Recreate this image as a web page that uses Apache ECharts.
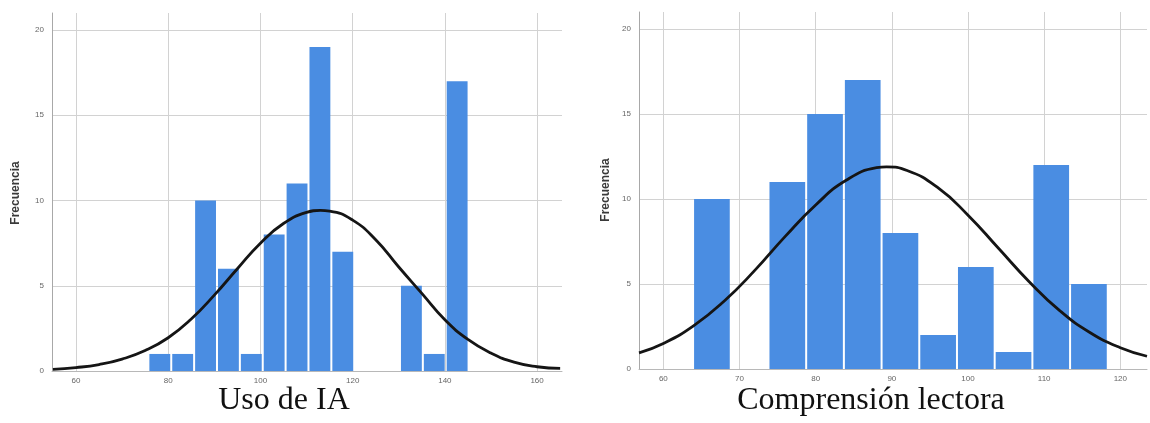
<!DOCTYPE html>
<html>
<head>
<meta charset="utf-8">
<script src="https://cdn.jsdelivr.net/npm/echarts@6/dist/echarts.min.js"></script>
<style>
html,body{margin:0;padding:0;background:#fff;}
#chart{width:1150px;height:423px;}
</style>
</head>
<body>
<div id="chart"></div>
<script>
// ---- Data ----
// Left histogram: "Uso de IA"
const iaTitle = "Uso de IA";
const iaBinStart = 75.7;
const iaBinWidth = 4.96;
const iaCounts = [1, 1, 10, 6, 1, 8, 11, 19, 7, 0, 0, 5, 1, 17];
const iaTicksX = [60, 80, 100, 120, 140, 160];
const iaCurveX = [55, 60, 65, 70, 75, 80, 85, 90, 95, 100, 105, 110, 113, 115, 120, 125, 130, 135, 140, 145, 150, 155, 160, 165];
const iaCurveY = [0.1, 0.2, 0.38, 0.7, 1.2, 1.95, 3.05, 4.45, 6.0, 7.5, 8.65, 9.3, 9.42, 9.38, 8.85, 7.7, 6.1, 4.55, 3.0, 1.85, 1.05, 0.52, 0.25, 0.15];

// Right histogram: "Comprensión lectora"
const clTitle = "Comprensión lectora";
const clBinStart = 63.9;
const clBinWidth = 4.95;
const clCounts = [10, 0, 11, 15, 17, 8, 2, 6, 1, 12, 5];
const clTicksX = [60, 70, 80, 90, 100, 110, 120];
const clCurveX = [56.8, 60, 64, 68, 72, 76, 80, 84, 88, 89.3, 92, 96, 100, 104, 108, 112, 116, 120, 123.5];
const clCurveY = [0.95, 1.5, 2.55, 4.0, 5.8, 7.8, 9.65, 11.1, 11.84, 11.89, 11.68, 10.68, 9.05, 7.1, 5.15, 3.45, 2.15, 1.25, 0.75];

const ticksY = [0, 5, 10, 15, 20];
const yLabel = "Frecuencia";

// ---- Build ----
function bins(start, w, counts) {
  return counts.map((c, i) => [start + i * w, start + (i + 1) * w, c]).filter(d => d[2] > 0);
}
function pairs(xs, ys) { return xs.map((x, i) => [x, ys[i]]); }

const barColor = '#4A8DE2';
function renderBar(params, api) {
  const p0 = api.coord([api.value(0), 0]);
  const p1 = api.coord([api.value(1), api.value(2)]);
  return {
    type: 'rect',
    shape: { x: p0[0] + 1, y: p1[1], width: p1[0] - p0[0] - 2, height: p0[1] - p1[1] },
    style: { fill: barColor }
  };
}

const labelStyle = { fontFamily: 'Liberation Sans', fontSize: 8, color: '#666' };
function xAxisCfg(idx, min, max, ticks) {
  return {
    type: 'value', gridIndex: idx, min: min, max: max,
    axisLine: { show: true, lineStyle: { color: '#b8b8b8', width: 1 } },
    axisTick: { show: false, customValues: ticks },
    axisLabel: Object.assign({ customValues: ticks, margin: 6 }, labelStyle),
    splitLine: { show: true, lineStyle: { color: '#d2d2d2', width: 1 } }
  };
}
function yAxisCfg(idx) {
  return {
    type: 'value', gridIndex: idx, min: 0, max: 21,
    axisLine: { show: true, onZero: false, lineStyle: { color: '#a8a8a8', width: 1 } },
    axisTick: { show: false, customValues: ticksY },
    axisLabel: Object.assign({ customValues: ticksY, margin: 8 }, labelStyle),
    splitLine: { show: true, lineStyle: { color: '#d2d2d2', width: 1 } }
  };
}

const chart = echarts.init(document.getElementById('chart'), null, { renderer: 'canvas' });
chart.setOption({
  animation: false,
  backgroundColor: '#ffffff',
  grid: [
    { left: 52, top: 13, width: 510, height: 358 },
    { left: 639, top: 12, width: 508, height: 357 }
  ],
  xAxis: [xAxisCfg(0, 54.8, 165.4, iaTicksX), xAxisCfg(1, 56.8, 123.5, clTicksX)],
  yAxis: [yAxisCfg(0), yAxisCfg(1)],
  series: [
    { type: 'custom', xAxisIndex: 0, yAxisIndex: 0, renderItem: renderBar, data: bins(iaBinStart, iaBinWidth, iaCounts), z: 2 },
    { type: 'line', xAxisIndex: 0, yAxisIndex: 0, data: pairs(iaCurveX, iaCurveY), smooth: true, symbol: 'none',
      lineStyle: { color: '#151515', width: 2.8 }, z: 3 },
    { type: 'custom', xAxisIndex: 1, yAxisIndex: 1, renderItem: renderBar, data: bins(clBinStart, clBinWidth, clCounts), z: 2 },
    { type: 'line', xAxisIndex: 1, yAxisIndex: 1, data: pairs(clCurveX, clCurveY), smooth: true, symbol: 'none',
      lineStyle: { color: '#151515', width: 2.8 }, z: 3 }
  ],
  graphic: [
    { type: 'text', x: 16, y: 193, rotation: Math.PI / 2,
      style: { text: yLabel, font: 'bold 12px "Liberation Sans"', fill: '#3a3a3a', textAlign: 'center', textVerticalAlign: 'middle' } },
    { type: 'text', x: 606, y: 190, rotation: Math.PI / 2,
      style: { text: yLabel, font: 'bold 12px "Liberation Sans"', fill: '#3a3a3a', textAlign: 'center', textVerticalAlign: 'middle' } },
    { type: 'text', x: 284, y: 401,
      style: { text: iaTitle, font: '32px "Liberation Serif"', fill: '#111', textAlign: 'center', textVerticalAlign: 'middle' } },
    { type: 'text', x: 871, y: 401,
      style: { text: clTitle, font: '32px "Liberation Serif"', fill: '#111', textAlign: 'center', textVerticalAlign: 'middle' } }
  ]
});
</script>
</body>
</html>
